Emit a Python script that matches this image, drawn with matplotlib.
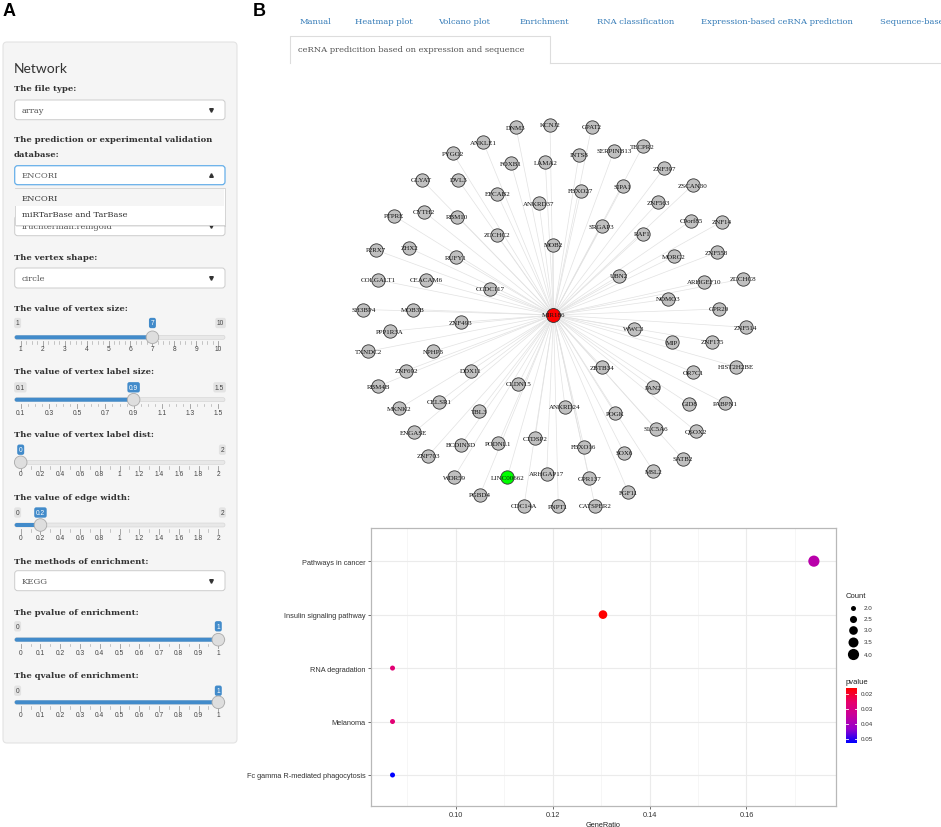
import numpy as np
import matplotlib.pyplot as plt
from matplotlib.patches import FancyBboxPatch, Rectangle, Circle
from matplotlib.colors import LinearSegmentedColormap, Normalize

W, H = 941, 828

# ---------------- data ----------------
tabs = ["Manual", "Heatmap plot", "Volcano plot", "Enrichment", "RNA classification",
        "Expression-based ceRNA prediction", "Sequence-based ceRNA prediction"]
active_tab = "ceRNA predicition based on expression and sequence"

file_type = "array"
database_choice = "ENCORI"
database_options = ["ENCORI", "miRTarBase and TarBase"]
layout_choice = "fruchterman.reingold"
vertex_shape = "circle"
enrich_method = "KEGG"

size_ticks = ["1", "2", "3", "4", "5", "6", "7", "8", "9", "10"]
label_size_ticks = ["0.1", "0.3", "0.5", "0.7", "0.9", "1.1", "1.3", "1.5"]
dist_ticks = ["0", "0.2", "0.4", "0.6", "0.8", "1", "1.2", "1.4", "1.6", "1.8", "2"]
p_ticks = ["0", "0.1", "0.2", "0.3", "0.4", "0.5", "0.6", "0.7", "0.8", "0.9", "1"]
slider_values = [7, 0.9, 0, 0.2, 1, 1]

# network: node name, x, y (screen pixels)
hub = ("MIR186", 553.5, 316)
lnc = ("LINC00662", 507.3, 478.3)
gene_names = ["DNM3", "KCNJ2", "GPAT2", "ANKLE1", "PYGO2", "FOXB1", "LAMA2", "INTS8", "SERPINB13",
              "TECPR2", "ZNF397", "GLYAT", "DVL3", "EFCAB2", "ANKRD37", "FBXO27", "SIPA1", "ZSCAN30",
              "ZNF563", "PTPRE", "CYTH2", "RBM10", "C9orf85", "ZNF14", "SRGAP3", "RAF1", "ZCCHC2",
              "MOB2", "P2RX7", "ZHX2", "RUFY1", "MORC2", "ZNF558", "UBN2", "ARHGEF10", "ZCCHC8",
              "COLGALT1", "CEACAM6", "CCDC117", "NOMO3", "GPR20", "SH3BP4", "MOB3B", "ZNF493",
              "ZNF514", "WWC3", "PPP1R3A", "MIP", "ZNF175", "TXNDC2", "NPHP3", "ZBTB34", "HIST2H2BE",
              "OR7C1", "ZNF692", "DDX11", "CLDN15", "RBM4B", "PAN2", "CELSR1", "GID8", "PABPN1",
              "ANKRD24", "MKNK2", "TBL3", "POGK", "SLC5A6", "QSOX2", "ENGASE", "CTDSP2", "BCDIN3D",
              "PODNL1", "FBXO16", "SOX6", "ZNF703", "SATB2", "MSL2", "ARHGAP17", "WDR59", "GPR137",
              "FGF11", "PGBD4", "CDC14A", "PNPT1", "CATSPER2"]
gene_x = [516, 550, 591.7, 483.3, 452.7, 511, 545.3, 579, 614,
          642.7, 664, 421.7, 458.3, 497.3, 539, 581, 622.7, 692.7,
          658.3, 394, 424, 457.3, 691, 721.7, 601.7, 642.7, 496.7,
          553.3, 376, 409.3, 456, 674, 716.7, 619.3, 704, 742.7,
          378.3, 426, 490, 668.3, 719.3, 363.3, 412.7, 460.7,
          745.7, 634, 390, 671.7, 712.3, 368.3, 433.3, 602.3, 736,
          693.3, 406, 470.7, 518.3, 378.3, 652.7, 439.3, 689.3, 725,
          565, 399.3, 479.3, 615, 656, 696, 414, 535, 460.7,
          498.3, 584, 624.3, 428.3, 682.7, 653.3, 546.7, 454, 589.3,
          628.3, 480, 524, 558.3, 595]
gene_y = [128.3, 125.7, 127.7, 143.3, 154, 164, 163.3, 155.7, 151.7,
          147.3, 169.3, 180.7, 181, 195, 204.3, 191.7, 187.3, 186,
          203.3, 216.7, 212.7, 217.7, 221.7, 222.7, 227.3, 235, 236,
          246, 251, 249, 258.3, 257.3, 253.3, 276.7, 282.7, 280,
          281, 281, 290, 300, 310, 310.5, 310.5, 323.3,
          328.3, 330, 332.3, 343.3, 342.7, 352.3, 352.3, 368.3, 367.7,
          373.3, 371.7, 371.7, 385, 387.3, 388.3, 402.7, 405, 404.3,
          407.7, 409.3, 412.3, 414.3, 430, 432.3, 433.3, 439.3, 446,
          444.3, 447.7, 454, 456.7, 460, 472.3, 474.7, 478.3, 479.3,
          493.3, 495.7, 506.7, 507.3, 506.7]

# enrichment dot plot
pathways = ["Pathways in cancer", "Insulin signaling pathway", "RNA degradation",
            "Melanoma", "Fc gamma R-mediated phagocytosis"]
gene_ratio = [0.1739, 0.1304, 0.0870, 0.0870, 0.0870]
counts = [4, 3, 2, 2, 2]
pvalues = [0.037, 0.016, 0.027, 0.027, 0.0527]
count_breaks = [2.0, 2.5, 3.0, 3.5, 4.0]
pvalue_breaks = [0.02, 0.03, 0.04, 0.05]

# ---------------- figure ----------------
fig = plt.figure(figsize=(W / 100, H / 100), dpi=100)
ax = fig.add_axes([0, 0, 1, 1])
ax.set_xlim(0, W)
ax.set_ylim(H, 0)
ax.axis("off")

SERIF = "DejaVu Serif"
SANS = "Liberation Sans"

ax.text(3, 12, "A", fontsize=13, fontweight="bold", family=SANS, va="center", ha="left")
ax.text(253, 11, "B", fontsize=13, fontweight="bold", family=SANS, va="center", ha="left")

# sidebar card
ax.add_patch(FancyBboxPatch((3, 43), 234, 701, boxstyle="round,pad=0,rounding_size=4",
                            fc="#f5f5f5", ec="#e3e3e3", lw=0.8, zorder=1))
ax.text(14, 69, "Network", family="Lato", fontsize=10, color="#333333", va="center", zorder=3)


def label(y, txt):
    ax.text(14, y, txt, family=SERIF, fontweight="bold", fontsize=6, color="#333333",
            va="center", ha="left", zorder=3)


def select_box(y0, y1, txt, focused=False, up=False):
    ec = "#66afe9" if focused else "#cccccc"
    ax.add_patch(FancyBboxPatch((14.7, y0), 210.3, y1 - y0, boxstyle="round,pad=0,rounding_size=3",
                                fc="white", ec=ec, lw=0.9 if focused else 0.7, zorder=2))
    ax.text(22, (y0 + y1) / 2, txt, family=SERIF, fontsize=6, color="#555555",
            va="center", ha="left", zorder=3)
    ax.plot(211, (y0 + y1) / 2, marker="^" if up else "v", ms=2.6, color="#333333", zorder=3)


label(89, "The file type:")
select_box(101, 120.7, file_type)
label(140, "The prediction or experimental validation")
label(155, "database:")
select_box(166.7, 185.7, database_choice, focused=True, up=True)
select_box(217, 236.7, layout_choice)

# open dropdown menu over the layout selector
ax.add_patch(Rectangle((16, 190.5), 210.3, 37, fc="#000000", alpha=0.08, ec="none", zorder=6))
ax.add_patch(Rectangle((14.7, 189), 210.3, 37, fc="white", ec="#d0d0d0", lw=0.6, zorder=7))
ax.add_patch(Rectangle((15.2, 189.5), 209.3, 17.5, fc="#f5f5f5", ec="none", zorder=7))
for i, opt in enumerate(database_options):
    ax.text(22, 199.3 + i * 16, opt, family=SERIF, fontsize=6, color="#333333",
            va="center", ha="left", zorder=8)

label(258, "The vertex shape:")
select_box(269, 289, vertex_shape)


def slider(txt, ys, ticks, value, show_min=True, show_max=True):
    y_lab, y_badge, y_track, y_grid = ys
    tv = [float(t) for t in ticks]
    vmin, vmax = tv[0], tv[-1]

    def px(v):
        return 20.7 + (v - vmin) / (vmax - vmin) * (218.3 - 20.7)

    label(y_lab, txt)
    ax.add_patch(FancyBboxPatch((14.7, y_track - 2), 210.3, 4, boxstyle="round,pad=0,rounding_size=2",
                                fc="#e8e8e8", ec="#d2d2d2", lw=0.4, zorder=2))
    xv = px(value)
    if xv - 14.7 > 4:
        ax.add_patch(FancyBboxPatch((14.7, y_track - 2), xv - 14.7, 4,
                                    boxstyle="round,pad=0,rounding_size=2",
                                    fc="#428bca", ec="none", zorder=3))
    n_minor = 1 if len(tv) > 10 else 3
    for i, (t, v) in enumerate(zip(ticks, tv)):
        x = px(v)
        ax.plot([x, x], [y_track + 4, y_track + 8.5], color="#9a9a9a", lw=0.6, zorder=2)
        ax.text(x, y_grid, t, family=SANS, fontsize=4.8, color="#444444",
                ha="center", va="center", zorder=3)
        if i < len(tv) - 1:
            step = (px(tv[i + 1]) - x) / (n_minor + 1)
            for k in range(1, n_minor + 1):
                ax.plot([x + k * step] * 2, [y_track + 4, y_track + 6.5], color="#b0b0b0",
                        lw=0.5, zorder=2)
    grey = dict(boxstyle="round,pad=0.25,rounding_size=0.3", fc="#e3e3e3", ec="none")
    blue = dict(boxstyle="round,pad=0.25,rounding_size=0.3", fc="#428bca", ec="none")
    if show_min:
        ax.text(15.8, y_badge, ticks[0], family=SANS, fontsize=4.8, color="#444444",
                ha="left", va="center", bbox=grey, zorder=3)
    if show_max:
        ax.text(224.2, y_badge, ticks[-1], family=SANS, fontsize=4.8, color="#444444",
                ha="right", va="center", bbox=grey, zorder=3)
    ax.text(xv, y_badge, f"{value:g}", family=SANS, fontsize=4.8, color="white",
            ha="center", va="center", bbox=blue, zorder=4)
    ax.add_patch(Circle((xv, y_track), 6.3, fc="#dedede", ec="#aaaaaa", lw=0.6, zorder=5))


slider("The value of vertex size:", (309.3, 324, 338.3, 350), size_ticks, slider_values[0])
slider("The value of vertex label size:", (371.7, 388.3, 400.7, 414), label_size_ticks, slider_values[1])
slider("The value of vertex label dist:", (435, 450.7, 463.3, 475), dist_ticks, slider_values[2],
       show_min=False)
slider("The value of edge width:", (497.7, 513.5, 526, 538.3), dist_ticks, slider_values[3])
label(561.7, "The methods of enrichment:")
select_box(571.7, 591.7, enrich_method)
slider("The pvalue of enrichment:", (613.3, 627.3, 640.7, 653.3), p_ticks, slider_values[4],
       show_max=False)
slider("The qvalue of enrichment:", (675.7, 691.7, 703.3, 716), p_ticks, slider_values[5],
       show_max=False)

# tabs (the last one runs off the right edge, as in the screenshot)
tab_x = [300, 355, 438, 520, 597, 701, 880]
for x, t in zip(tab_x, tabs):
    ax.text(x, 22, t, family=SERIF, fontsize=6, color="#337ab7", ha="left", va="center")
ax.plot([290, 290, 550, 550], [64, 37, 37, 64], color="#dddddd", lw=0.8)
ax.plot([550, W], [64, 64], color="#dddddd", lw=0.8)
ax.text(298, 50, active_tab, family=SERIF, fontsize=6, color="#555555", ha="left", va="center")

# network
all_x = gene_x + [lnc[1]]
all_y = gene_y + [lnc[2]]
for x, y in zip(all_x, all_y):
    ax.plot([hub[1], x], [hub[2], y], color="#e2e2e2", lw=0.5, zorder=2)
ax.scatter(gene_x, gene_y, s=92, c="#c0c0c0", edgecolors="#333333", linewidths=0.6, zorder=3)
ax.scatter([lnc[1]], [lnc[2]], s=92, c="#00ff00", edgecolors="#333333", linewidths=0.6, zorder=3)
ax.scatter([hub[1]], [hub[2]], s=100, c="#ff0000", edgecolors="#333333", linewidths=0.6, zorder=3)
for n, x, y in zip(gene_names + [lnc[0], hub[0]], gene_x + [lnc[1], hub[1]], gene_y + [lnc[2], hub[2]]):
    ax.text(x, y, n, family="Liberation Serif", fontsize=5, color="#111111",
            ha="center", va="center", zorder=4)

# dot plot
cmap = LinearSegmentedColormap.from_list("pv", ["#ff0000", "#e8006a", "#c8009c", "#9500cc", "#0000ff"])
norm = Normalize(min(pvalues), max(pvalues))


def dot_area(c):
    d_px = np.sqrt(50 * np.asarray(c, dtype=float) - 75)
    return (d_px * 0.72) ** 2


L, R, T, B = 370.7, 835.7, 529, 807
ax2 = fig.add_axes([L / W, (H - B) / H, (R - L) / W, (B - T) / H])
ypos = np.arange(len(pathways))[::-1] + 1
ax2.scatter(gene_ratio, ypos, s=dot_area(counts), c=pvalues, cmap=cmap, norm=norm,
            linewidths=0, zorder=3)
ax2.set_xlim(0.0825, 0.1784)
ax2.set_ylim(0.42, 5.62)
ax2.set_xticks([0.10, 0.12, 0.14, 0.16])
ax2.set_xticklabels(["0.10", "0.12", "0.14", "0.16"])
ax2.set_xticks([0.09, 0.11, 0.13, 0.15, 0.17], minor=True)
ax2.set_yticks(ypos)
ax2.set_yticklabels(pathways)
ax2.grid(True, which="major", color="#ebebeb", lw=0.8)
ax2.grid(True, which="minor", axis="x", color="#f3f3f3", lw=0.5)
ax2.set_axisbelow(True)
ax2.tick_params(which="major", length=2, width=0.5, color="#333333", labelsize=5.3,
                labelcolor="#333333", pad=1.5)
ax2.tick_params(which="minor", length=0)
for lab in ax2.get_xticklabels() + ax2.get_yticklabels():
    lab.set_family(SANS)
for s in ax2.spines.values():
    s.set_color("#b8b8b8")
    s.set_linewidth(0.9)
ax2.set_xlabel("GeneRatio", family=SANS, fontsize=5.3, color="#222222", labelpad=2)

# legends
ax.text(846, 597, "Count", family=SANS, fontsize=5.5, color="#222222", ha="left", va="center")
yk = 603.5
for c in count_breaks:
    d = np.sqrt(50 * c - 75)
    h = max(11, d + 2)
    yc = yk + h / 2
    ax.scatter([852.7], [yc], s=dot_area([c]), c="black", linewidths=0, zorder=3)
    ax.text(864, yc, f"{c:.1f}", family=SANS, fontsize=4.5, color="#333333", ha="left", va="center")
    yk += h

ax.text(846, 683, "pvalue", family=SANS, fontsize=5.5, color="#222222", ha="left", va="center")
cb_top, cb_bot = 689, 744
ax.imshow(np.linspace(0, 1, 200).reshape(-1, 1), cmap=cmap, aspect="auto",
          extent=[846, 857, cb_bot, cb_top], zorder=2)
for p in pvalue_breaks:
    yb = cb_top + norm(p) * (cb_bot - cb_top)
    ax.plot([846, 848], [yb, yb], color="white", lw=0.6, zorder=3)
    ax.plot([855, 857], [yb, yb], color="white", lw=0.6, zorder=3)
    ax.text(861, yb, f"{p:.2f}", family=SANS, fontsize=4.5, color="#333333", ha="left", va="center")

ax.set_xlim(0, W)
ax.set_ylim(H, 0)

fig.savefig("out.png", dpi=100)
